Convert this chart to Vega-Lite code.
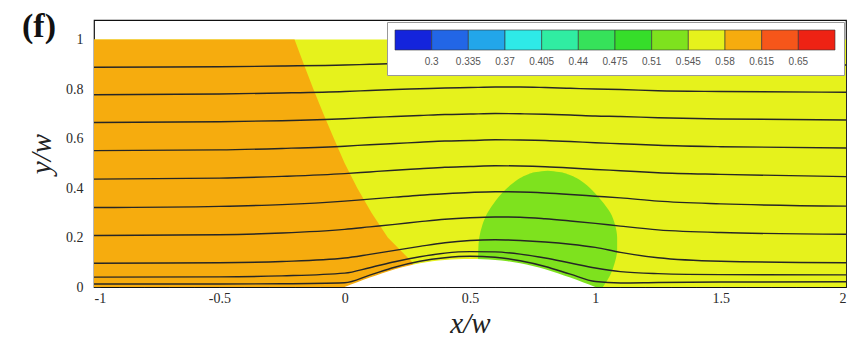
{
  "$schema": "https://vega.github.io/schema/vega-lite/v6.json",
  "width": 752,
  "height": 267,
  "autosize": "none",
  "padding": {"left": 94, "top": 20, "right": 6, "bottom": 58},
  "background": "white",
  "title": {"text": "(f)", "anchor": "start", "frame": "group", "orient": "top", "offset": 0, "dx": -72, "dy": 24, "font": "Liberation Serif", "fontSize": 34, "fontWeight": "bold", "color": "#111"},
  "datasets": {
    "bg": [{"x1": -1, "x2": 2, "y1": 0, "y2": 1, "v": 0.56}],
    "orange": [
      {"y": 0, "xb": 0.29}, {"y": 0.1, "xb": 0.27}, {"y": 0.13, "xb": 0.24},
      {"y": 0.2, "xb": 0.172}, {"y": 0.3, "xb": 0.107}, {"y": 0.4, "xb": 0.05},
      {"y": 0.5, "xb": 0.0}, {"y": 0.6, "xb": -0.043}, {"y": 0.7, "xb": -0.085},
      {"y": 0.8, "xb": -0.125}, {"y": 0.9, "xb": -0.163}, {"y": 1.0, "xb": -0.2}
    ],
    "green": [
      {"y": 0, "xl": 0.532, "xr": 1.03}, {"y": 0.05, "xl": 0.532, "xr": 1.06},
      {"y": 0.1, "xl": 0.532, "xr": 1.078}, {"y": 0.15, "xl": 0.533, "xr": 1.087},
      {"y": 0.2, "xl": 0.537, "xr": 1.087}, {"y": 0.25, "xl": 0.549, "xr": 1.079},
      {"y": 0.3, "xl": 0.57, "xr": 1.06}, {"y": 0.35, "xl": 0.603, "xr": 1.024},
      {"y": 0.38, "xl": 0.628, "xr": 0.998}, {"y": 0.42, "xl": 0.672, "xr": 0.955},
      {"y": 0.44, "xl": 0.7, "xr": 0.925}, {"y": 0.455, "xl": 0.73, "xr": 0.893},
      {"y": 0.465, "xl": 0.765, "xr": 0.855}, {"y": 0.47, "xl": 0.81, "xr": 0.81}
    ],
    "bump": [
      {"x": 0, "b": 0}, {"x": 0.05, "b": 0.019}, {"x": 0.1, "b": 0.038}, {"x": 0.15, "b": 0.056},
      {"x": 0.2, "b": 0.072}, {"x": 0.25, "b": 0.085}, {"x": 0.3, "b": 0.096}, {"x": 0.35, "b": 0.104},
      {"x": 0.4, "b": 0.109}, {"x": 0.45, "b": 0.112}, {"x": 0.5, "b": 0.113}, {"x": 0.55, "b": 0.112},
      {"x": 0.6, "b": 0.109}, {"x": 0.65, "b": 0.104}, {"x": 0.7, "b": 0.096}, {"x": 0.75, "b": 0.085},
      {"x": 0.8, "b": 0.072}, {"x": 0.85, "b": 0.056}, {"x": 0.9, "b": 0.038}, {"x": 0.95, "b": 0.019},
      {"x": 1.0, "b": 0}
    ],
    "lines": [
      {"id": 1, "x": -1, "y": 0.888}, {"id": 1, "x": -0.5, "y": 0.890}, {"id": 1, "x": -0.25, "y": 0.893}, {"id": 1, "x": 0, "y": 0.897}, {"id": 1, "x": 0.1, "y": 0.900}, {"id": 1, "x": 0.2, "y": 0.903}, {"id": 1, "x": 0.3, "y": 0.905}, {"id": 1, "x": 0.4, "y": 0.907}, {"id": 1, "x": 0.5, "y": 0.908}, {"id": 1, "x": 0.6, "y": 0.910}, {"id": 1, "x": 0.7, "y": 0.910}, {"id": 1, "x": 0.8, "y": 0.909}, {"id": 1, "x": 0.9, "y": 0.907}, {"id": 1, "x": 1.0, "y": 0.905}, {"id": 1, "x": 1.1, "y": 0.903}, {"id": 1, "x": 1.25, "y": 0.901}, {"id": 1, "x": 1.5, "y": 0.899}, {"id": 1, "x": 2.0, "y": 0.897},
      {"id": 2, "x": -1, "y": 0.777}, {"id": 2, "x": -0.5, "y": 0.780}, {"id": 2, "x": -0.25, "y": 0.784}, {"id": 2, "x": 0, "y": 0.790}, {"id": 2, "x": 0.1, "y": 0.794}, {"id": 2, "x": 0.2, "y": 0.798}, {"id": 2, "x": 0.3, "y": 0.801}, {"id": 2, "x": 0.4, "y": 0.804}, {"id": 2, "x": 0.5, "y": 0.806}, {"id": 2, "x": 0.6, "y": 0.808}, {"id": 2, "x": 0.7, "y": 0.808}, {"id": 2, "x": 0.8, "y": 0.806}, {"id": 2, "x": 0.9, "y": 0.803}, {"id": 2, "x": 1.0, "y": 0.800}, {"id": 2, "x": 1.1, "y": 0.798}, {"id": 2, "x": 1.25, "y": 0.793}, {"id": 2, "x": 1.5, "y": 0.790}, {"id": 2, "x": 2.0, "y": 0.787},
      {"id": 3, "x": -1, "y": 0.665}, {"id": 3, "x": -0.5, "y": 0.668}, {"id": 3, "x": -0.25, "y": 0.672}, {"id": 3, "x": 0, "y": 0.680}, {"id": 3, "x": 0.1, "y": 0.685}, {"id": 3, "x": 0.2, "y": 0.689}, {"id": 3, "x": 0.3, "y": 0.693}, {"id": 3, "x": 0.4, "y": 0.697}, {"id": 3, "x": 0.5, "y": 0.699}, {"id": 3, "x": 0.6, "y": 0.701}, {"id": 3, "x": 0.7, "y": 0.700}, {"id": 3, "x": 0.8, "y": 0.698}, {"id": 3, "x": 0.9, "y": 0.695}, {"id": 3, "x": 1.0, "y": 0.691}, {"id": 3, "x": 1.1, "y": 0.689}, {"id": 3, "x": 1.25, "y": 0.684}, {"id": 3, "x": 1.5, "y": 0.679}, {"id": 3, "x": 2.0, "y": 0.675},
      {"id": 4, "x": -1, "y": 0.551}, {"id": 4, "x": -0.5, "y": 0.554}, {"id": 4, "x": -0.25, "y": 0.560}, {"id": 4, "x": 0, "y": 0.569}, {"id": 4, "x": 0.1, "y": 0.575}, {"id": 4, "x": 0.2, "y": 0.580}, {"id": 4, "x": 0.3, "y": 0.585}, {"id": 4, "x": 0.4, "y": 0.590}, {"id": 4, "x": 0.5, "y": 0.592}, {"id": 4, "x": 0.6, "y": 0.595}, {"id": 4, "x": 0.7, "y": 0.594}, {"id": 4, "x": 0.8, "y": 0.592}, {"id": 4, "x": 0.9, "y": 0.588}, {"id": 4, "x": 1.0, "y": 0.583}, {"id": 4, "x": 1.1, "y": 0.579}, {"id": 4, "x": 1.25, "y": 0.573}, {"id": 4, "x": 1.5, "y": 0.567}, {"id": 4, "x": 2.0, "y": 0.562},
      {"id": 5, "x": -1, "y": 0.436}, {"id": 5, "x": -0.5, "y": 0.440}, {"id": 5, "x": -0.25, "y": 0.447}, {"id": 5, "x": 0, "y": 0.458}, {"id": 5, "x": 0.1, "y": 0.465}, {"id": 5, "x": 0.2, "y": 0.472}, {"id": 5, "x": 0.3, "y": 0.478}, {"id": 5, "x": 0.4, "y": 0.484}, {"id": 5, "x": 0.5, "y": 0.487}, {"id": 5, "x": 0.6, "y": 0.490}, {"id": 5, "x": 0.7, "y": 0.489}, {"id": 5, "x": 0.8, "y": 0.486}, {"id": 5, "x": 0.9, "y": 0.481}, {"id": 5, "x": 1.0, "y": 0.475}, {"id": 5, "x": 1.1, "y": 0.470}, {"id": 5, "x": 1.25, "y": 0.462}, {"id": 5, "x": 1.5, "y": 0.455}, {"id": 5, "x": 2.0, "y": 0.446},
      {"id": 6, "x": -1, "y": 0.321}, {"id": 6, "x": -0.5, "y": 0.326}, {"id": 6, "x": -0.25, "y": 0.333}, {"id": 6, "x": 0, "y": 0.347}, {"id": 6, "x": 0.1, "y": 0.355}, {"id": 6, "x": 0.2, "y": 0.363}, {"id": 6, "x": 0.3, "y": 0.371}, {"id": 6, "x": 0.4, "y": 0.377}, {"id": 6, "x": 0.5, "y": 0.382}, {"id": 6, "x": 0.6, "y": 0.385}, {"id": 6, "x": 0.7, "y": 0.384}, {"id": 6, "x": 0.8, "y": 0.380}, {"id": 6, "x": 0.9, "y": 0.374}, {"id": 6, "x": 1.0, "y": 0.367}, {"id": 6, "x": 1.1, "y": 0.360}, {"id": 6, "x": 1.25, "y": 0.347}, {"id": 6, "x": 1.5, "y": 0.336}, {"id": 6, "x": 2.0, "y": 0.327},
      {"id": 7, "x": -1, "y": 0.208}, {"id": 7, "x": -0.5, "y": 0.211}, {"id": 7, "x": -0.25, "y": 0.218}, {"id": 7, "x": 0, "y": 0.233}, {"id": 7, "x": 0.1, "y": 0.243}, {"id": 7, "x": 0.2, "y": 0.253}, {"id": 7, "x": 0.3, "y": 0.264}, {"id": 7, "x": 0.4, "y": 0.274}, {"id": 7, "x": 0.5, "y": 0.280}, {"id": 7, "x": 0.6, "y": 0.283}, {"id": 7, "x": 0.7, "y": 0.282}, {"id": 7, "x": 0.8, "y": 0.276}, {"id": 7, "x": 0.9, "y": 0.267}, {"id": 7, "x": 1.0, "y": 0.257}, {"id": 7, "x": 1.1, "y": 0.246}, {"id": 7, "x": 1.25, "y": 0.231}, {"id": 7, "x": 1.5, "y": 0.220}, {"id": 7, "x": 2.0, "y": 0.213},
      {"id": 8, "x": -1, "y": 0.096}, {"id": 8, "x": -0.5, "y": 0.098}, {"id": 8, "x": -0.25, "y": 0.103}, {"id": 8, "x": 0, "y": 0.117}, {"id": 8, "x": 0.1, "y": 0.132}, {"id": 8, "x": 0.2, "y": 0.148}, {"id": 8, "x": 0.3, "y": 0.164}, {"id": 8, "x": 0.4, "y": 0.179}, {"id": 8, "x": 0.5, "y": 0.188}, {"id": 8, "x": 0.6, "y": 0.191}, {"id": 8, "x": 0.7, "y": 0.188}, {"id": 8, "x": 0.8, "y": 0.182}, {"id": 8, "x": 0.9, "y": 0.173}, {"id": 8, "x": 1.0, "y": 0.160}, {"id": 8, "x": 1.1, "y": 0.140}, {"id": 8, "x": 1.25, "y": 0.118}, {"id": 8, "x": 1.5, "y": 0.104}, {"id": 8, "x": 2.0, "y": 0.098},
      {"id": 9, "x": -1, "y": 0.040}, {"id": 9, "x": -0.5, "y": 0.041}, {"id": 9, "x": -0.25, "y": 0.045}, {"id": 9, "x": 0, "y": 0.056}, {"id": 9, "x": 0.1, "y": 0.078}, {"id": 9, "x": 0.2, "y": 0.102}, {"id": 9, "x": 0.3, "y": 0.122}, {"id": 9, "x": 0.4, "y": 0.137}, {"id": 9, "x": 0.5, "y": 0.143}, {"id": 9, "x": 0.6, "y": 0.142}, {"id": 9, "x": 0.7, "y": 0.133}, {"id": 9, "x": 0.8, "y": 0.117}, {"id": 9, "x": 0.9, "y": 0.097}, {"id": 9, "x": 1.0, "y": 0.077}, {"id": 9, "x": 1.1, "y": 0.062}, {"id": 9, "x": 1.25, "y": 0.054}, {"id": 9, "x": 1.5, "y": 0.050}, {"id": 9, "x": 2.0, "y": 0.049},
      {"id": 10, "x": -1, "y": 0.012}, {"id": 10, "x": -0.5, "y": 0.012}, {"id": 10, "x": -0.25, "y": 0.013}, {"id": 10, "x": 0, "y": 0.017}, {"id": 10, "x": 0.1, "y": 0.048}, {"id": 10, "x": 0.2, "y": 0.080}, {"id": 10, "x": 0.3, "y": 0.104}, {"id": 10, "x": 0.4, "y": 0.118}, {"id": 10, "x": 0.5, "y": 0.124}, {"id": 10, "x": 0.6, "y": 0.120}, {"id": 10, "x": 0.7, "y": 0.106}, {"id": 10, "x": 0.8, "y": 0.083}, {"id": 10, "x": 0.9, "y": 0.052}, {"id": 10, "x": 1.0, "y": 0.022}, {"id": 10, "x": 1.1, "y": 0.016}, {"id": 10, "x": 1.25, "y": 0.018}, {"id": 10, "x": 1.5, "y": 0.020}, {"id": 10, "x": 2.0, "y": 0.021}
    ]
  },
  "layer": [
    {
      "data": {"name": "bg"},
      "mark": {"type": "rect"},
      "encoding": {
        "x": {"field": "x1", "type": "quantitative", "scale": {"domain": [-1, 2], "nice": false, "zero": false},
          "axis": {"orient": "bottom", "values": [-1, -0.5, 0, 0.5, 1, 1.5, 2], "title": "x/w", "labelExpr": "datum.value < 0 ? '-' + format(-datum.value, '~g') : format(datum.value, '~g')", "tickSize": -6, "labelPadding": 10, "titlePadding": 4, "domain": false, "grid": false}},
        "x2": {"field": "x2"},
        "y": {"field": "y1", "type": "quantitative", "scale": {"domain": [0, 1.079], "nice": false, "zero": false},
          "axis": {"orient": "left", "values": [0, 0.2, 0.4, 0.6, 0.8, 1], "title": "y/w", "format": "~g", "tickSize": -6, "labelPadding": 17, "titlePadding": 9, "domain": false, "grid": false}},
        "y2": {"field": "y2"},
        "color": {"field": "v", "type": "quantitative",
          "scale": {"type": "threshold", "domain": [0.3, 0.335, 0.37, 0.405, 0.44, 0.475, 0.51, 0.545, 0.58, 0.615, 0.65],
            "range": ["#1424DC", "#2266E6", "#22A6EA", "#2EEAE8", "#30EDA2", "#36E25A", "#36DE2A", "#7EE21E", "#E6F21C", "#F6AC0E", "#F6561A", "#EE2214"]},
          "legend": {"type": "gradient", "direction": "horizontal", "orient": "top-right", "offset": 2, "title": null, "gradientLength": 440, "gradientThickness": 20, "labelFontSize": 10, "labelOffset": 7, "labelFont": "Liberation Sans", "labelColor": "#555", "fillColor": "white", "strokeColor": "#999", "padding": 8, "labelOverlap": false, "format": "~g", "gradientStrokeColor": "#333", "gradientStrokeWidth": 0.6}}
      }
    },
    {
      "data": {"name": "orange"},
      "mark": {"type": "area", "orient": "horizontal", "fill": "#F6AC0E"},
      "encoding": {
        "y": {"field": "y", "type": "quantitative", "scale": {"domain": [0, 1.079], "nice": false, "zero": false}, "axis": null},
        "x": {"field": "xb", "type": "quantitative", "stack": null, "scale": {"domain": [-1, 2], "nice": false, "zero": false}, "axis": null},
        "x2": {"datum": -1}
      }
    },
    {
      "data": {"name": "green"},
      "mark": {"type": "area", "orient": "horizontal", "interpolate": "monotone", "fill": "#7EE21E"},
      "encoding": {
        "y": {"field": "y", "type": "quantitative", "scale": {"domain": [0, 1.079], "nice": false, "zero": false}, "axis": null},
        "x": {"field": "xl", "type": "quantitative", "stack": null, "scale": {"domain": [-1, 2], "nice": false, "zero": false}, "axis": null},
        "x2": {"field": "xr"}
      }
    },
    {
      "data": {"name": "bump"},
      "mark": {"type": "area", "fill": "white", "orient": "vertical", "interpolate": "monotone"},
      "encoding": {
        "x": {"field": "x", "type": "quantitative", "scale": {"domain": [-1, 2], "nice": false, "zero": false}, "axis": null},
        "y": {"field": "b", "type": "quantitative", "stack": null, "scale": {"domain": [0, 1.079], "nice": false, "zero": false}, "axis": null},
        "y2": {"datum": 0}
      }
    },
    {
      "data": {"name": "lines"},
      "mark": {"type": "line", "stroke": "#262626", "strokeWidth": 1.4, "interpolate": "monotone"},
      "encoding": {
        "x": {"field": "x", "type": "quantitative", "scale": {"domain": [-1, 2], "nice": false, "zero": false}, "axis": null},
        "y": {"field": "y", "type": "quantitative", "scale": {"domain": [0, 1.079], "nice": false, "zero": false}, "axis": null},
        "detail": {"field": "id", "type": "nominal"}
      }
    },
    {
      "data": {"name": "bump"},
      "mark": {"type": "point", "opacity": 0},
      "encoding": {
        "x": {"field": "x", "type": "quantitative", "scale": {"domain": [-1, 2], "nice": false, "zero": false},
          "axis": {"orient": "bottom", "values": [-0.9, -0.8, -0.7, -0.6, -0.4, -0.3, -0.2, -0.1, 0.1, 0.2, 0.3, 0.4, 0.6, 0.7, 0.8, 0.9, 1.1, 1.2, 1.3, 1.4, 1.6, 1.7, 1.8, 1.9], "labels": false, "title": null, "tickSize": -3, "domain": false, "grid": false}},
        "y": {"field": "b", "type": "quantitative", "scale": {"domain": [0, 1.079], "nice": false, "zero": false},
          "axis": {"orient": "left", "values": [0.1, 0.3, 0.5, 0.7, 0.9], "labels": false, "title": null, "tickSize": -3, "domain": false, "grid": false}}
      }
    }
  ],
  "resolve": {"axis": {"x": "independent", "y": "independent"}},
  "config": {
    "view": {"stroke": "#111", "strokeWidth": 1.2},
    "axis": {"labelFont": "Liberation Serif", "labelFontSize": 14, "labelColor": "#2a2a2a", "tickColor": "#222", "tickWidth": 1, "titleFont": "Liberation Serif", "titleFontSize": 29, "titleFontStyle": "italic", "titleFontWeight": "normal", "titleColor": "#222"}
  }
}
